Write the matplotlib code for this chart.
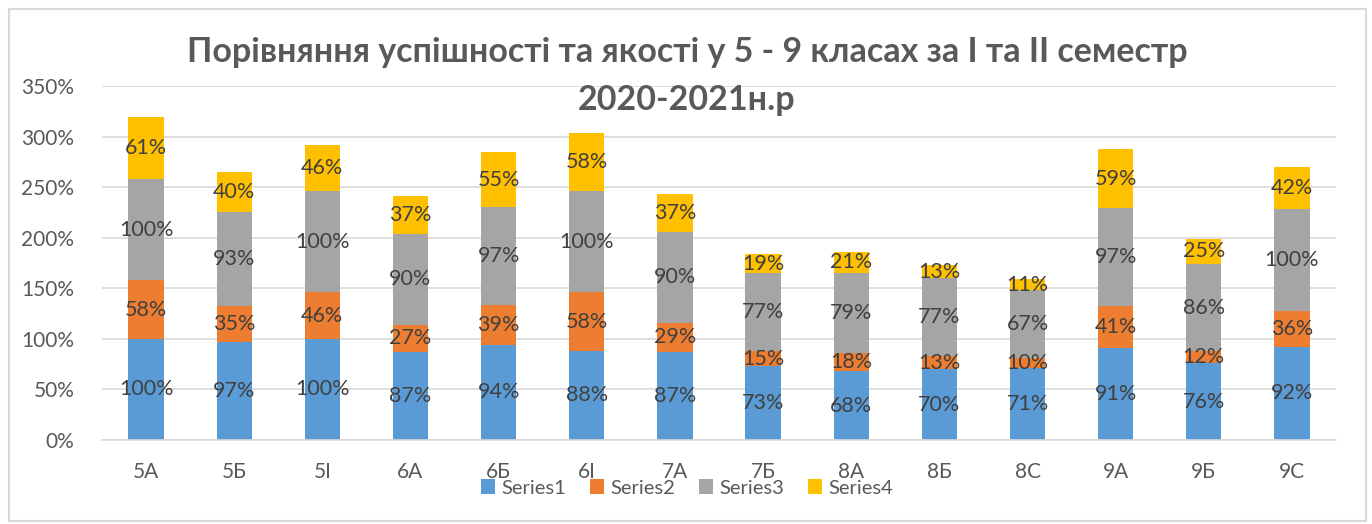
import matplotlib
matplotlib.use("Agg")
import matplotlib.pyplot as plt
import numpy as np
from matplotlib.patches import Rectangle

categories = ["5А", "5Б", "5І", "6А", "6Б", "6І", "7А", "7Б", "8А", "8Б", "8С", "9А", "9Б", "9С"]
series1 = [100, 97, 100, 87, 94, 88, 87, 73, 68, 70, 71, 91, 76, 92]
series2 = [58, 35, 46, 27, 39, 58, 29, 15, 18, 13, 10, 41, 12, 36]
series3 = [100, 93, 100, 90, 97, 100, 90, 77, 79, 77, 67, 97, 86, 100]
series4 = [61, 40, 46, 37, 55, 58, 37, 19, 21, 13, 11, 59, 25, 42]
series_names = ["Series1", "Series2", "Series3", "Series4"]
colors = ["#5B9BD5", "#ED7D31", "#A5A5A5", "#FFC000"]
yticks = [0, 50, 100, 150, 200, 250, 300, 350]
title_line1 = "Порівняння успішності та якості у 5 - 9 класах за І та ІІ семестр"
title_line2 = "2020-2021н.р"

plt.rcParams['font.family'] = ['Lato', 'DejaVu Sans']

W, H = 1372, 524
fig = plt.figure(figsize=(W / 100, H / 100), dpi=100)
fig.patches.append(Rectangle((9 / W, 0.005), (1366 - 9) / W, 1 - 9 / H - 0.005,
                             transform=fig.transFigure, fill=False,
                             edgecolor="#D9D9D9", linewidth=1.5))

left, right = 102 / W, 1336 / W
bottom, top = 1 - 440 / H, 1 - 86 / H
ax = fig.add_axes([left, bottom, right - left, top - bottom])

x = np.arange(len(categories))
data = [series1, series2, series3, series4]
base = np.zeros(len(categories))
handles = []
for vals, name, col in zip(data, series_names, colors):
    vals = np.array(vals, dtype=float)
    b = ax.bar(x, vals, 0.4, bottom=base, color=col, label=name, zorder=2)
    handles.append(b)
    for xi, v, bo in zip(x, vals, base):
        ax.text(xi, bo + v / 2, f"{int(v)}%", ha="center", va="center",
                fontsize=15.5, color="#404040", zorder=3)
    base = base + vals

ax.set_xlim(-0.5, len(categories) - 0.5)
ax.set_ylim(0, 350)
ax.set_yticks(yticks)
ax.set_yticklabels([f"{t}%" for t in yticks])
ax.set_xticks(x)
ax.set_xticklabels(categories)
ax.yaxis.grid(True, color="#D9D9D9", linewidth=1.2, zorder=0)
ax.set_axisbelow(True)
for s in ["top", "right", "left"]:
    ax.spines[s].set_visible(False)
ax.spines["bottom"].set_color("#D9D9D9")
ax.spines["bottom"].set_linewidth(1.2)
ax.tick_params(axis="both", length=0, labelsize=15, colors="#595959")
ax.tick_params(axis="x", pad=16)
ax.tick_params(axis="y", pad=20)

fig.text(687 / W, 1 - 52 / H, title_line1, ha="center", va="center", fontsize=24.5,
         fontweight="bold", color="#595959")
fig.text(687 / W, 1 - 100 / H, title_line2, ha="center", va="center", fontsize=24.5,
         fontweight="bold", color="#595959")

leg = fig.legend(handles=handles, labels=series_names, loc="center",
                 bbox_to_anchor=(687 / W, 1 - 488 / H), ncol=4, frameon=False,
                 fontsize=14.5, handlelength=0.7, handleheight=0.7,
                 handletextpad=0.3, columnspacing=1.2)
for t in leg.get_texts():
    t.set_color("#595959")

fig.savefig("out.png", dpi=100)
